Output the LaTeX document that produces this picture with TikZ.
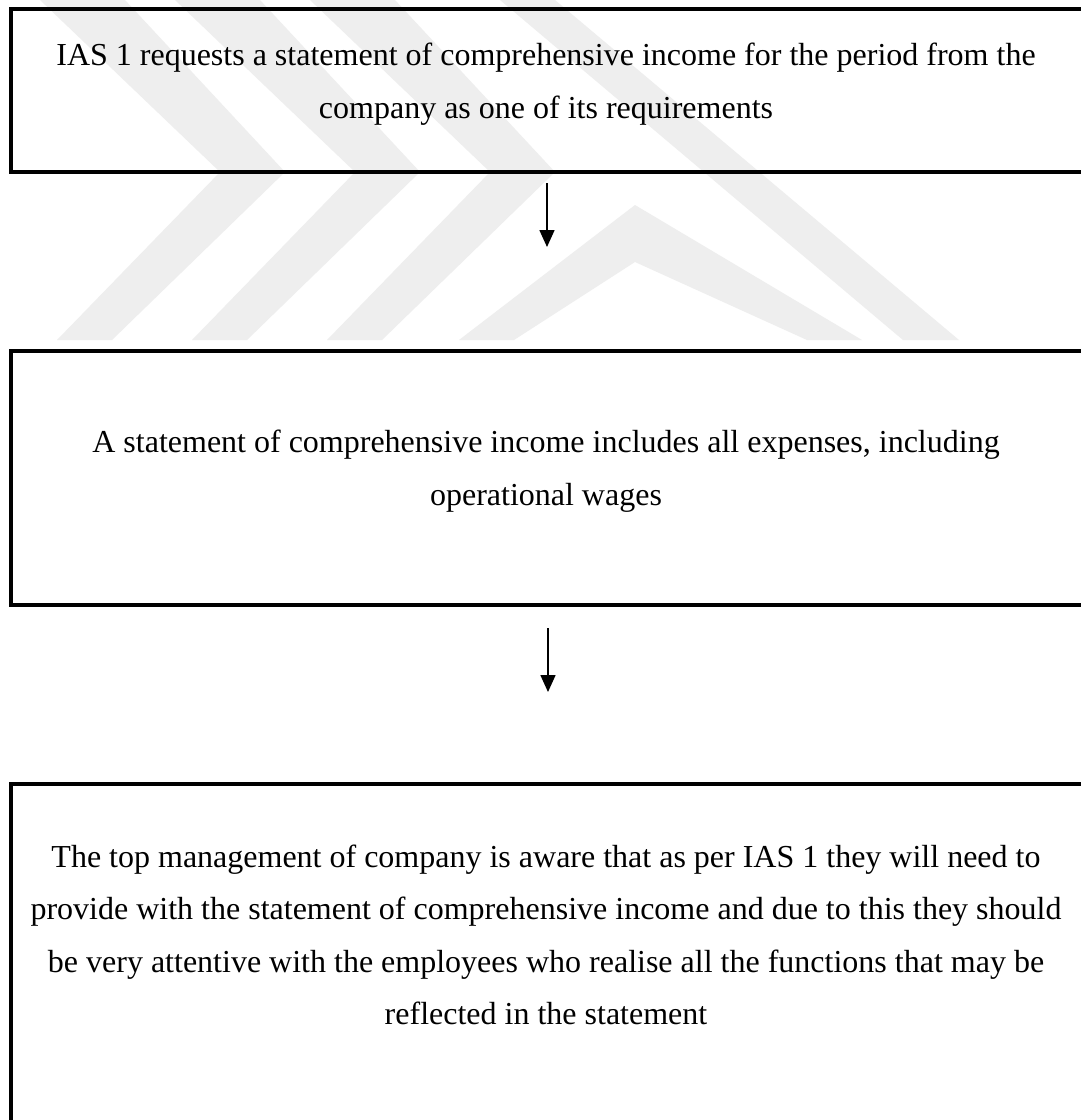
\documentclass[tikz,border=0pt]{standalone}
\usepackage{fontspec}
\setmainfont{Liberation Serif}
\usetikzlibrary{arrows.meta}
\definecolor{wmgray}{HTML}{EEEEEE}
\tikzset{
  flowbox/.style={draw=black, line width=4pt},
  flowtext/.style={align=center, font=\fontsize{32}{52.5}\selectfont, inner sep=0pt},
  flowarrow/.style={line width=1.6pt, -{Triangle[width=15pt,length=17pt]}},
  wmband/.style={fill=wmgray, draw=none}
}
\begin{document}
\begin{tikzpicture}[x=1pt,y=-1pt]
\useasboundingbox (0,0) rectangle (1081,1120);
\fill[white] (0,0) rectangle (1081,1120);

% light emblem in the background
\begin{scope}
  \clip (0,0) rectangle (1081,340);
  % three nested chevrons on the left
  \foreach \k in {0,1,2}{
    \fill[wmband] ({40+135*\k},0) -- ({125+135*\k},0) -- ({285+135*\k},172)
                  -- ({112+135*\k},340) -- ({57+135*\k},340) -- ({220+135*\k},172) -- cycle;
  }
  % peaked band in the middle
  \fill[wmband] (635,205) -- (862,340) -- (807,340) -- (635,262) -- (514,340) -- (459,340) -- cycle;
  % long band on the right
  \fill[wmband] (500,0) -- (555,0) -- (959,340) -- (903,340) -- cycle;
\end{scope}

% boxes
\draw[flowbox] (10.5,8.5) rectangle (1095,171.5);
\draw[flowbox] (10.5,351) rectangle (1095,605);
\draw[flowbox] (10.5,783.5) rectangle (1095,1140);

\node[flowtext] (t1) at (546,84) {IAS 1 requests a statement of comprehensive income for the period from the\\company as one of its requirements};
\node[flowtext] (t2) at (546,471) {A statement of comprehensive income includes all expenses, including\\operational wages};
\node[flowtext] (t3) at (546,935) {The top management of company is aware that as per IAS 1 they will need to\\provide with the statement of comprehensive income and due to this they should\\be very attentive with the employees who realise all the functions that may be\\reflected in the statement};

\coordinate (a1s) at (547,183);
\coordinate (a1e) at (547,247);
\coordinate (a2s) at (548,628);
\coordinate (a2e) at (548,692);
\draw[flowarrow] (a1s) -- (a1e);
\draw[flowarrow] (a2s) -- (a2e);
\end{tikzpicture}
\end{document}
